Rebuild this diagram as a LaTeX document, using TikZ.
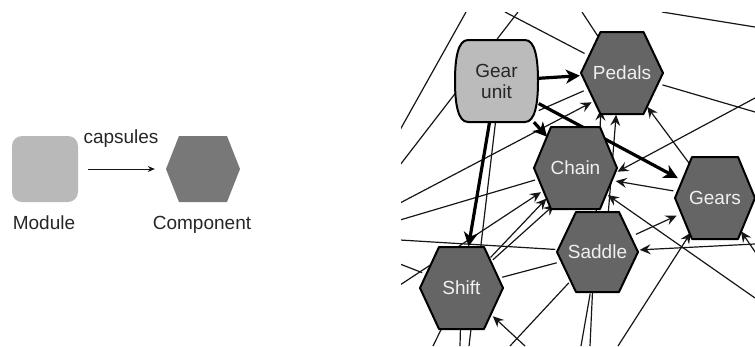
\documentclass[tikz,border=0pt]{standalone}
\usepackage{fontspec}
\setmainfont{Liberation Sans}
\usetikzlibrary{arrows.meta,calc}
\pgfdeclarelayer{bg}
\pgfsetlayers{bg,main}
\definecolor{hexfill}{HTML}{656565}
\definecolor{legendhex}{HTML}{787878}
\definecolor{modfill}{HTML}{B9B9B9}
\definecolor{gufill}{HTML}{BBBBBB}
\definecolor{hextext}{HTML}{F0F0F0}
\definecolor{linecol}{HTML}{161616}
\definecolor{txtcol}{HTML}{262626}
\newcommand{\drawhex}[6]{\path[#6] (#1-#3,#2) -- (#1-#4,#2-#5) -- (#1+#4,#2-#5) -- (#1+#3,#2) -- (#1+#4,#2+#5) -- (#1-#4,#2+#5) -- cycle;}
\tikzset{
  bigfont/.style={font=\fontsize{19}{21}\selectfont},
  hexbody/.style={fill=hexfill, draw=black, line width=2pt, line join=round},
  hexlabel/.style={circle, minimum size=84pt, inner sep=0pt, text=hextext, bigfont},
  gubody/.style={fill=gufill, draw=black, line width=2pt},
  gulabel/.style={rectangle, minimum width=84pt, minimum height=82pt, inner sep=0pt, align=center, text=txtcol, bigfont},
  thickedge/.style={draw=black, line width=3.2pt, -{Stealth[length=14pt,width=14pt,inset=4pt]}},
  tarr/.style={draw=linecol, line width=1.2pt, -{Stealth[length=11pt,width=10pt,inset=4pt]}},
  tline/.style={draw=linecol, line width=1.2pt},
  legendtext/.style={text=txtcol, bigfont, anchor=base, inner sep=0pt}
}
\begin{document}
\begin{tikzpicture}[x=1pt, y=-1pt]
\useasboundingbox (0,0) rectangle (755,346);

% ---------- legend ----------
\node[fill=modfill, rounded corners=10pt, minimum width=66pt, minimum height=66pt, inner sep=0pt] (mod) at (45,169) {};
\drawhex{203}{169}{37}{24}{33}{fill=legendhex}
\node[circle, minimum size=66pt, inner sep=0pt] (comp) at (203,169) {};
\draw[line width=1pt, draw=linecol, -{Stealth[length=7pt,width=6pt]}, shorten <=10pt, shorten >=15pt] (mod.east) -- (comp);
\node[legendtext] (caplbl) at (121,143) {capsules};
\node[legendtext] (modlbl) at (44,229) {Module};
\node[legendtext] (complbl) at (202,229) {Component};

% ---------- network nodes ----------
\path[gubody] (468,40) -- (525,40) .. controls (535,40) and (538,58) .. (538,81) .. controls (538,104) and (535,122) .. (525,122) -- (468,122) .. controls (458,122) and (455,104) .. (455,81) .. controls (455,58) and (458,40) .. (468,40) -- cycle;
\node[gulabel] (gu) at (496.5,81) {Gear\\unit};

\drawhex{622}{73}{41}{21.5}{41}{hexbody}
\node[hexlabel] (ped) at (622,73) {Pedals};
\drawhex{575.5}{168}{41.5}{24.5}{41}{hexbody}
\node[hexlabel] (cha) at (575.5,168) {Chain};
\drawhex{715}{198}{40}{23}{41}{hexbody}
\node[hexlabel] (gea) at (715,198) {Gears};
\drawhex{597.5}{252}{40.5}{21.5}{40}{hexbody}
\node[hexlabel] (sad) at (597.5,252) {Saddle};
\drawhex{461.5}{288}{41.5}{22.5}{41}{hexbody}
\node[hexlabel] (shi) at (461.5,288) {Shift};

% free ends at the picture border
\coordinate (t1) at (466,12);
\coordinate (t2) at (518,12);
\coordinate (t3) at (505,12);
\coordinate (t4) at (582,12);
\coordinate (t5) at (662,12);
\coordinate (r1) at (755,27);
\coordinate (r2) at (755,112);
\coordinate (r3) at (755,98);
\coordinate (r4) at (762,262);
\coordinate (r5) at (755,298);
\coordinate (r6) at (755,244);
\coordinate (l1) at (400,130);
\coordinate (l2) at (400,165);
\coordinate (l3) at (400,203);
\coordinate (l4) at (400,220);
\coordinate (l5) at (400,240);
\coordinate (l6) at (400,264);
\coordinate (l7) at (400,285);
\coordinate (b1) at (433,346);
\coordinate (b2) at (460,346);
\coordinate (b3) at (469,346);
\coordinate (b4) at (525,346);
\coordinate (b5) at (510,346);
\coordinate (b6) at (581,346);
\coordinate (b7) at (590,346);
\coordinate (b8) at (618,346);

\begin{pgfonlayer}{bg}
\begin{scope}
\clip (401,12) rectangle (755,346);
\draw[tline] (t1) -- (l1);
\draw[tline] (t2) -- (l2);
\draw[tline] (t3) -- (ped);
\draw[tline] (t4) -- (ped);
\draw[tline] (t5) -- (r1);
\draw[tline] (ped) -- (r2);
\draw[tarr] (l3) -- (ped.224);
\draw[tline] (l4) -- (cha);
\draw[tline] (l5) -- (sad);
\draw[tline] (l6) -- (shi);
\draw[tarr] (l7) -- (cha.215);
\draw[tarr] (shi) -- (cha);
\draw[tarr] (shi) -- (cha.240);
\draw[tline] ($(gu.south)+(-1,0)$) -- (b3);
\draw[tline] (shi) -- (b1);
\draw[tline] (shi) -- (b2);
\draw[tarr] (b4) -- (shi.-42);
\draw[tline] (b5) -- (sad);
\draw[tline] (shi) -- (sad);
\draw[tline] (sad) -- (b6);
\draw[tarr] (b7) -- (ped.240);
\draw[tarr] (sad.75) -- (ped.262);
\draw[tarr] (gea) -- (ped);
\draw[tarr] (gea) -- (cha.-18);
\draw[tarr] (r3) -- (cha.-5);
\draw[tarr] (r5) -- (cha.-40);
\draw[tarr] (sad) -- (gea);
\draw[tarr] (r6) -- (sad);
\draw[tarr] (r4) -- (gea.-52);
\draw[tarr] (b8) -- (gea.235);
\draw[tline] (gu.-35) -- (ped.205);
\end{scope}
\draw[thickedge] (gu) -- (ped);
\draw[thickedge] (gu) -- (cha);
\draw[thickedge] (gu) -- (gea);
\draw[thickedge] (gu) -- (shi);
\end{pgfonlayer}
\end{tikzpicture}
\end{document}
